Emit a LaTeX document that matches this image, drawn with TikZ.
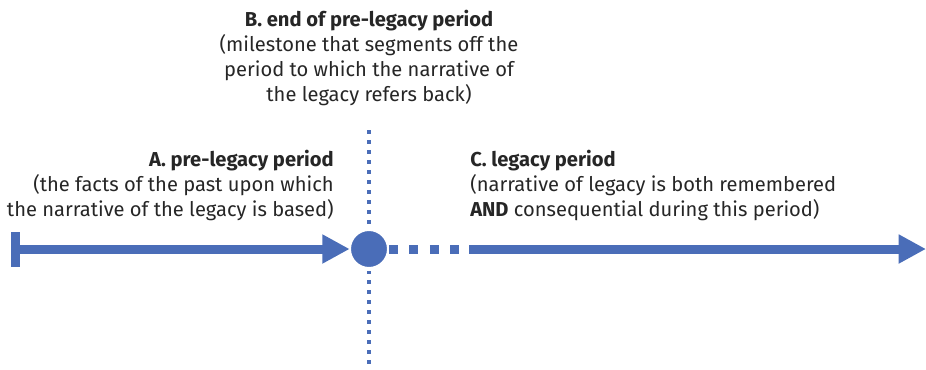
\documentclass[tikz,border=0pt]{standalone}
\usepackage{fontspec}
\setmainfont{Fira Sans}
\usetikzlibrary{arrows.meta,positioning}
\definecolor{lineblue}{HTML}{4A6DB8}
\begin{document}
\begin{tikzpicture}[x=0.75pt,y=-0.75pt,
  txt/.style={font=\fontsize{15.1}{18.8}\selectfont, inner sep=0pt, text=black!85},
  timeline/.style={lineblue, line width=6.75pt},
  bigtip/.style={-{Triangle[length=20.5pt,width=20.5pt]}}]
\useasboundingbox (0,0) rectangle (926,369);

% dotted divider and milestone
\coordinate (vtop) at (369,130);
\coordinate (vbot) at (369,369);
\draw[lineblue, line width=3pt, dash pattern=on 3pt off 4.5pt] (vtop) -- (vbot);
\node[circle, fill=lineblue, draw=white, line width=3pt, minimum size=30pt, inner sep=0pt] (mile) at (369,249) {};

% pre-legacy period
\coordinate (barup) at (15.5,232);
\coordinate (bardown) at (15.5,267);
\coordinate (start) at (15.5,249);
\draw[timeline] (barup) -- (bardown);
\draw[timeline, bigtip] (start) -- ([xshift=2pt]mile.west);

% legacy period
\coordinate (dotsend) at (463,249);
\coordinate (solid) at (469,249);
\coordinate (finish) at (926,249);
\draw[timeline, dash pattern=on 6.75pt off 8.6pt] ([xshift=-1.5pt]mile.east) -- (dotsend);
\draw[timeline, bigtip] (solid) -- (finish);

% labels
\node[txt, align=center, anchor=north] (btext) at (369,10)
  {\textbf{B. end of pre-legacy period}\\(milestone that segments off the\\period to which the narrative of\\the legacy refers back)};
\node[txt, align=right, anchor=north east] (atext) at (334,150)
  {\textbf{A. pre-legacy period}\\(the facts of the past upon which\\the narrative of the legacy is based)};
\node[txt, align=left, anchor=north west] (ctext) at (470,150)
  {\textbf{C. legacy period}\\(narrative of legacy is both remembered\\\textbf{AND} consequential during this period)};
\end{tikzpicture}
\end{document}
